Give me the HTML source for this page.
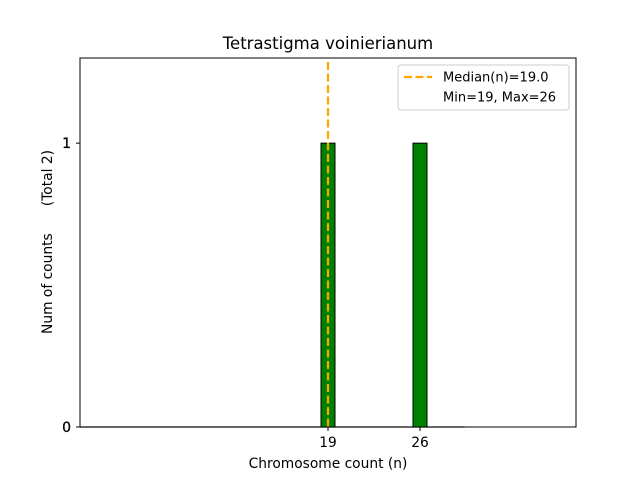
<!DOCTYPE html>
<html><head><meta charset="utf-8"><style>
body{margin:0;background:#fff;font-family:"Liberation Sans","DejaVu Sans",sans-serif;}
</style></head><body>
<svg id="c" width="640" height="480" xmlns="http://www.w3.org/2000/svg" font-family="DejaVu Sans, Liberation Sans, sans-serif">
<rect width="640" height="480" fill="#fff"/>
<text x="328" y="49" text-anchor="middle" font-size="16.5">Tetrastigma voinierianum</text>
<g id="plot"></g>
<rect x="80" y="58" width="496" height="369" fill="none" stroke="#000" stroke-width="1"/>
<text x="328" y="468" text-anchor="middle" font-size="13.8">Chromosome count (n)</text>
<text transform="translate(52,334) rotate(-90)" text-anchor="start" font-size="13.8">Num of counts</text>
<text transform="translate(52,150) rotate(-90)" text-anchor="end" font-size="13.8">(Total 2)</text>
<g>
<rect x="398" y="65" width="171" height="45" rx="3" fill="#fff" stroke="#ccc"/>
<line x1="404" y1="77" x2="432" y2="77" stroke="orange" stroke-width="2.2" stroke-dasharray="8,3.5"/>
<text x="443" y="81.5" font-size="13">Median(n)=19.0</text>
<text x="443" y="101.5" font-size="13">Min=19, Max=26</text>
</g>
</svg>
<script>
const categories=[19,26];
const counts=[1,1];
const median=19.0;
const xTicks=[19,26];
const yTicks=[0,1];
const NS="http://www.w3.org/2000/svg";
const X0=80,X1=576,Y0=427,Y1=58;
const xmin=0.13,xmax=37.87,ymax=1.3;
const xs=v=>X0+(v-xmin)/(xmax-xmin)*(X1-X0);
const ys=v=>Y0-v/ymax*(Y0-Y1);
const g=document.getElementById('plot');
function mk(t,a){const e=document.createElementNS(NS,t);for(const k in a)e.setAttribute(k,a[k]);g.appendChild(e);return e;}
const base=mk('line',{x1:X0,y1:Y0,x2:xs(29.4),y2:Y0,stroke:'#999','stroke-width':1.5});


const bw=1.065;
categories.forEach((c,i)=>{
const r=mk('rect',{x:xs(c-bw/2),y:ys(counts[i]),width:xs(c+bw/2)-xs(c-bw/2),height:Y0-ys(counts[i]),fill:'green',stroke:'#000','stroke-width':1});


});
const m=mk('line',{x1:xs(median),y1:Y1+4,x2:xs(median),y2:Y0,stroke:'orange','stroke-width':2.2,'stroke-dasharray':'8,3.5'});


xTicks.forEach(t=>{
const l=mk('line',{x1:xs(t),y1:Y0,x2:xs(t),y2:Y0+4,stroke:'#000'});


const tx=mk('text',{x:xs(t),y:Y0+20,'text-anchor':'middle','font-size':13.8});
tx.textContent=t;


});
yTicks.forEach(t=>{
const l=mk('line',{x1:X0-4,y1:ys(t),x2:X0,y2:ys(t),stroke:'#000'});


const tx=mk('text',{x:X0-9,y:ys(t)+5,'text-anchor':'end','font-size':14,'stroke':'#000','stroke-width':0.3});
tx.textContent=t;


});
</script>
</body></html>
